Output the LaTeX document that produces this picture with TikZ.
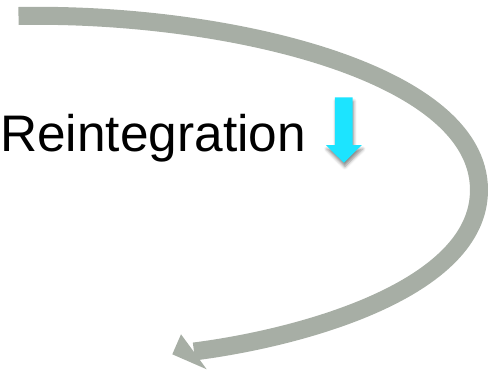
\documentclass[tikz,border=0pt]{standalone}
\usepackage{fontspec}
\setmainfont{Liberation Sans}
\usetikzlibrary{shadows.blur}
\definecolor{bandgray}{RGB}{167,174,165}
\definecolor{downcyan}{RGB}{28,228,255}
\tikzset{
  band/.style={draw=bandgray, line width=18pt, line cap=butt},
  bandhead/.style={fill=bandgray, draw=none},
  cuearrow/.style={fill=downcyan, draw=none,
    blur shadow={shadow xshift=1pt, shadow yshift=-4pt, shadow blur radius=3pt, shadow opacity=45}},
  label/.style={font=\fontsize{51.4}{60}\selectfont, inner sep=0pt, anchor=base west}
}
\begin{document}
\begin{tikzpicture}[x=1pt, y=-1pt]
  \useasboundingbox (0,0) rectangle (488,370);
  % curved return band and its head
  \coordinate (bandstart) at (18.5,16);
  \coordinate (bandturn) at (479,190);
  \coordinate (bandend) at (194,351.5);
  \draw[band] (bandstart) .. controls (220,12) and (479,70) .. (bandturn)
                          .. controls (479,290) and (300,338) .. (bandend);
  \fill[bandhead] (181,334.3) -- (172.3,354.3) -- (206.7,369.3) -- cycle;
  % label
  \node[label] (reint) at (0,151.7) {Reintegration};
  % small downward cue arrow
  \fill[cuearrow] (334.9,97.3) -- (352.7,97.3) -- (352.7,145) -- (361.8,145)
                  -- (343.8,162.7) -- (325.8,145) -- (334.9,145) -- cycle;
\end{tikzpicture}
\end{document}
